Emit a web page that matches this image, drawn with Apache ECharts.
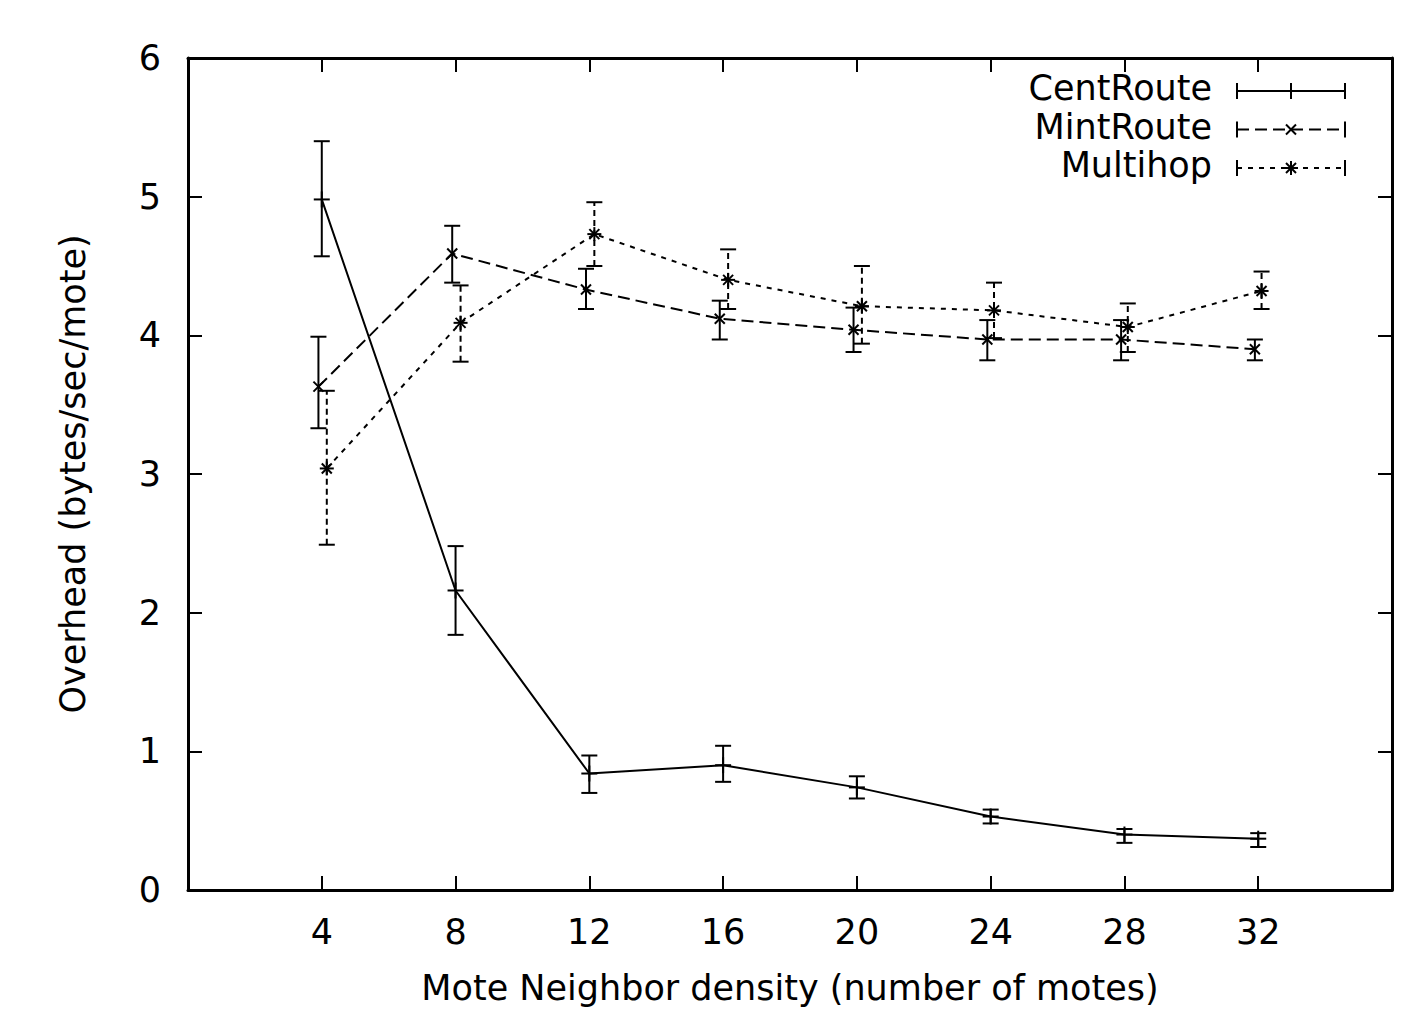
<!DOCTYPE html>
<html>
<head>
<meta charset="UTF-8" />
<title>Overhead vs mote neighbor density</title>
<script src="https://cdn.jsdelivr.net/npm/echarts@6/dist/echarts.min.js"></script>
<style type="text/css">
html, body { margin:0; padding:0; background:#fff; }
#main { width:1413px; height:1009px; }
</style>
</head>
<body>
<div id="main"></div>
<script type="text/javascript">
// tick labels
var xTicks = [4, 8, 12, 16, 20, 24, 28, 32];
var yTicks = [0, 1, 2, 3, 4, 5, 6];

// CentRoute
var centX  = [4, 8, 12, 16, 20, 24, 28, 32];
var centY  = [4.98, 2.16, 0.84, 0.90, 0.74, 0.53, 0.40, 0.37];
var centLo = [4.57, 1.84, 0.70, 0.78, 0.66, 0.48, 0.34, 0.31];
var centHi = [5.40, 2.48, 0.97, 1.04, 0.82, 0.58, 0.44, 0.41];

// MintRoute (plotted slightly left of the tick)
var mintX  = [3.9, 7.9, 11.9, 15.9, 19.9, 23.9, 27.9, 31.9];
var mintY  = [3.63, 4.59, 4.33, 4.12, 4.04, 3.97, 3.97, 3.90];
var mintLo = [3.33, 4.38, 4.19, 3.97, 3.88, 3.82, 3.82, 3.82];
var mintHi = [3.99, 4.79, 4.48, 4.25, 4.20, 4.11, 4.11, 3.97];

// Multihop (plotted slightly right of the tick)
var multiX  = [4.15, 8.15, 12.15, 16.15, 20.15, 24.1, 28.1, 32.1];
var multiY  = [3.04, 4.09, 4.73, 4.40, 4.21, 4.18, 4.06, 4.32];
var multiLo = [2.49, 3.81, 4.50, 4.19, 3.94, 3.98, 3.88, 4.19];
var multiHi = [3.60, 4.36, 4.96, 4.62, 4.50, 4.38, 4.23, 4.46];

var FONT = 'DejaVu Sans';
var FS = 35;

var lines = [
  {name:'CentRoute', x:centX,  y:centY,  lo:centLo,  hi:centHi,  mark:'plus', dash:'solid', barDash:'solid'},
  {name:'MintRoute', x:mintX,  y:mintY,  lo:mintLo,  hi:mintHi,  mark:'cross', dash:[12,6], barDash:'solid'},
  {name:'Multihop',  x:multiX, y:multiY, lo:multiLo, hi:multiHi, mark:'star', dash:[5,6], barDash:[6,4]}
];

function markShapes(kind, cx, cy){
  var out = [];
  var st = {stroke:'#000', lineWidth:2};
  if(kind=='plus' || kind=='star'){
    var r = kind=='plus' ? 8 : 7;
    out.push({type:'line', shape:{x1:cx-r, y1:cy, x2:cx+r, y2:cy}, style:st});
    out.push({type:'line', shape:{x1:cx, y1:cy-r, x2:cx, y2:cy+r}, style:st});
  }
  if(kind=='cross' || kind=='star'){
    var d = 5;
    out.push({type:'line', shape:{x1:cx-d, y1:cy-d, x2:cx+d, y2:cy+d}, style:st});
    out.push({type:'line', shape:{x1:cx-d, y1:cy+d, x2:cx+d, y2:cy-d}, style:st});
  }
  return out;
}

var series = [];
for(var i=0;i<lines.length;i++){
  var s = lines[i];
  var pts = [], bars = [];
  for(var j=0;j<s.x.length;j++){
    pts.push([s.x[j], s.y[j]]);
    bars.push([s.x[j], s.y[j], s.lo[j], s.hi[j]]);
  }
  series.push({
    name: s.name,
    type: 'line',
    data: pts,
    symbol: 'none',
    lineStyle: {color:'#000', width:2, type:s.dash},
    z: 2
  });
  (function(s){
    series.push({
      name: s.name,
      type: 'custom',
      data: bars,
      encode: {x:0, y:1},
      z: 3,
      renderItem: function(params, api){
        var x = api.value(0);
        var c = api.coord([x, api.value(1)]);
        var l = api.coord([x, api.value(2)]);
        var h = api.coord([x, api.value(3)]);
        var w = 8;
        var st = {stroke:'#000', lineWidth:2, lineDash: s.barDash=='solid' ? null : s.barDash};
        var kids = [
          {type:'line', shape:{x1:l[0], y1:l[1], x2:h[0], y2:h[1]}, style:st},
          {type:'line', shape:{x1:l[0]-w, y1:l[1], x2:l[0]+w, y2:l[1]}, style:{stroke:'#000', lineWidth:2}},
          {type:'line', shape:{x1:h[0]-w, y1:h[1], x2:h[0]+w, y2:h[1]}, style:{stroke:'#000', lineWidth:2}}
        ].concat(markShapes(s.mark, c[0], c[1]));
        return {type:'group', children:kids};
      }
    });
  })(s);
}

// legend drawn as graphic: text right aligned, sample line with caps and marker
var legendGraphic = [];
for(var k=0;k<lines.length;k++){
  var ly = 91 + k*38.5;
  var x1 = 1237, x2 = 1345, xm = 1291;
  legendGraphic.push({
    type:'text', right: 1413-1212, top: ly-FS/2-3,
    style:{text:lines[k].name, font: FS+'px "'+FONT+'"', fill:'#000', textAlign:'right'}
  });
  legendGraphic.push({
    type:'line', shape:{x1:x1, y1:ly, x2:x2, y2:ly},
    style:{stroke:'#000', lineWidth:2, lineDash: lines[k].dash=='solid' ? null : lines[k].dash}
  });
  legendGraphic.push({type:'line', shape:{x1:x1, y1:ly-8, x2:x1, y2:ly+8}, style:{stroke:'#000', lineWidth:2}});
  legendGraphic.push({type:'line', shape:{x1:x2, y1:ly-8, x2:x2, y2:ly+8}, style:{stroke:'#000', lineWidth:2}});
  var ms = markShapes(lines[k].mark, xm, ly);
  for(var m=0;m<ms.length;m++) legendGraphic.push(ms[m]);
}

var axisLine = {show:true, onZero:false, lineStyle:{color:'#000', width:3}};
var tickX = {show:true, inside:true, length:14, customValues:xTicks, lineStyle:{color:'#000', width:2}};
var tickY = {show:true, inside:true, length:14, customValues:yTicks, lineStyle:{color:'#000', width:2}};

var myChart = echarts.init(document.getElementById('main'), null, {renderer:'svg'});
myChart.setOption({
  animation: false,
  backgroundColor: '#fff',
  textStyle: {fontFamily: FONT},
  grid: {left:188, right:21, top:58, bottom:119, containLabel:false, outerBoundsMode:'none'},
  xAxis: [
    {
      type:'value', min:0, max:36, position:'bottom',
      name:'Mote Neighbor density (number of motes)', nameLocation:'middle', nameGap:80,
      nameTextStyle:{color:'#000', fontSize:FS, fontFamily:FONT},
      axisLine:axisLine, axisTick:tickX, splitLine:{show:false},
      axisLabel:{color:'#000', fontSize:FS, fontFamily:FONT, margin:24, customValues:xTicks}
    },
    {
      type:'value', min:0, max:36, position:'top',
      axisLine:axisLine, axisTick:tickX, splitLine:{show:false},
      axisLabel:{show:false}
    }
  ],
  yAxis: [
    {
      type:'value', min:0, max:6, position:'left',
      name:'Overhead (bytes/sec/mote)', nameLocation:'middle', nameGap:98,
      nameTextStyle:{color:'#000', fontSize:FS, fontFamily:FONT},
      axisLine:axisLine, axisTick:tickY, splitLine:{show:false},
      axisLabel:{color:'#000', fontSize:FS, fontFamily:FONT, margin:27, customValues:yTicks}
    },
    {
      type:'value', min:0, max:6, position:'right',
      axisLine:axisLine, axisTick:tickY, splitLine:{show:false},
      axisLabel:{show:false}
    }
  ],
  graphic: legendGraphic,
  series: series
});
</script>
</body>
</html>
